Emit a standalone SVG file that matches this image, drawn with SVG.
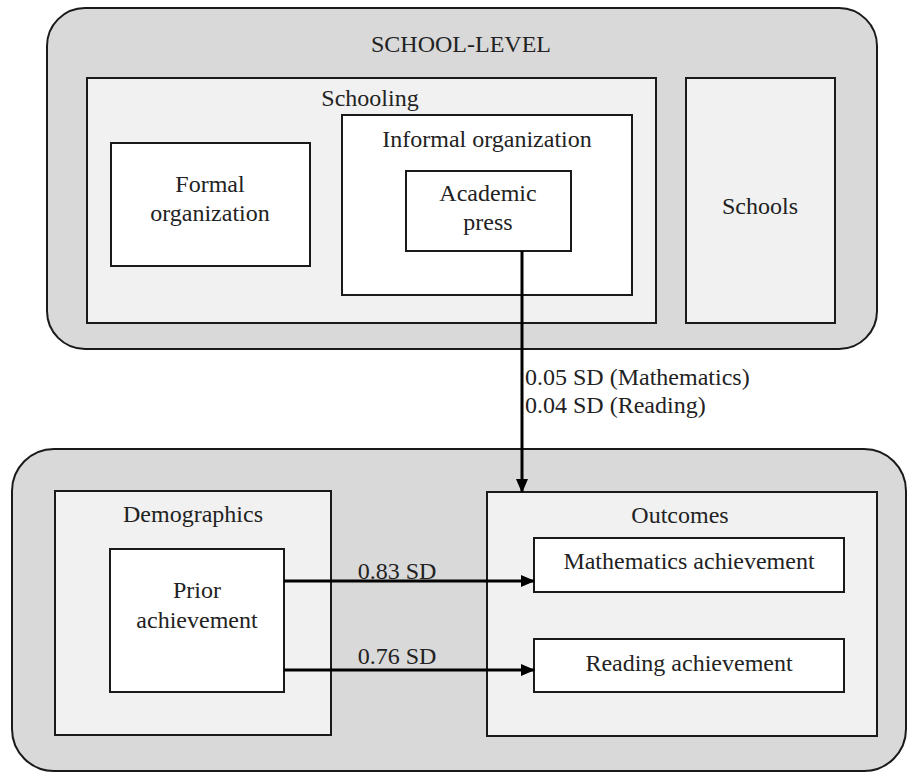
<svg xmlns="http://www.w3.org/2000/svg" width="908" height="774" viewBox="0 0 908 774">
<defs>
<style>
.outer{fill:#d9d9d9;stroke:#1a1a1a;stroke-width:2}
.mid{fill:#f1f1f1;stroke:#1a1a1a;stroke-width:2}
.inner{fill:#ffffff;stroke:#1a1a1a;stroke-width:2}
.t{font-family:"Liberation Serif","DejaVu Serif",serif;font-size:24px;fill:#222}
.c{text-anchor:middle}
.conn{stroke:#000;stroke-width:3;fill:none}
</style>
<marker id="arr" markerUnits="userSpaceOnUse" markerWidth="14" markerHeight="12" refX="13" refY="6" orient="auto">
<path d="M0,0 L14,6 L0,12 Z" fill="#000"/>
</marker>
</defs>
<rect width="908" height="774" fill="#ffffff"/>
<g id="school-level">
<rect class="outer" x="47" y="8" width="830" height="341" rx="38" ry="38"/>
<text class="t c" x="461" y="52" font-size="25">SCHOOL-LEVEL</text>
</g>
<g id="schooling">
<rect class="mid" x="87" y="78" width="569" height="245"/>
<text class="t c" x="370" y="106">Schooling</text>
</g>
<g id="formal-organization">
<rect class="inner" x="111" y="143" width="199" height="123"/>
<text class="t c" x="210" y="192">Formal</text>
<text class="t c" x="210" y="221">organization</text>
</g>
<g id="informal-organization">
<rect class="inner" x="342" y="115" width="290" height="180"/>
<text class="t c" x="487" y="147">Informal organization</text>
</g>
<g id="academic-press">
<rect class="inner" x="406" y="171" width="165" height="80"/>
<text class="t c" x="488" y="201">Academic</text>
<text class="t c" x="488" y="230">press</text>
</g>
<g id="schools">
<rect class="mid" x="686" y="78" width="149" height="245"/>
<text class="t c" x="760" y="214">Schools</text>
</g>
<g id="student-level">
<rect class="outer" x="12" y="449" width="894" height="322" rx="42" ry="42"/>
</g>
<g id="demographics">
<rect class="mid" x="55" y="491" width="276" height="244"/>
<text class="t c" x="193" y="522">Demographics</text>
</g>
<g id="prior-achievement">
<rect class="inner" x="110" y="549" width="174" height="143"/>
<text class="t c" x="197" y="598">Prior</text>
<text class="t c" x="197" y="628">achievement</text>
</g>
<g id="outcomes">
<rect class="mid" x="487" y="492" width="390" height="244"/>
<text class="t c" x="680" y="523">Outcomes</text>
</g>
<g id="mathematics-achievement">
<rect class="inner" x="534" y="538" width="310" height="54"/>
<text class="t c" x="689" y="569">Mathematics achievement</text>
</g>
<g id="reading-achievement">
<rect class="inner" x="534" y="639" width="310" height="53"/>
<text class="t c" x="689" y="671">Reading achievement</text>
</g>
<g id="connectors">
<line class="conn" x1="522" y1="251" x2="522" y2="492" marker-end="url(#arr)"/>
<line class="conn" x1="284" y1="581" x2="534" y2="581" marker-end="url(#arr)"/>
<line class="conn" x1="284" y1="670" x2="534" y2="670" marker-end="url(#arr)"/>
<text class="t" x="525" y="385">0.05 SD (Mathematics)</text>
<text class="t" x="525" y="413">0.04 SD (Reading)</text>
<text class="t c" x="397" y="579">0.83 SD</text>
<text class="t c" x="397" y="664">0.76 SD</text>
</g>
</svg>
